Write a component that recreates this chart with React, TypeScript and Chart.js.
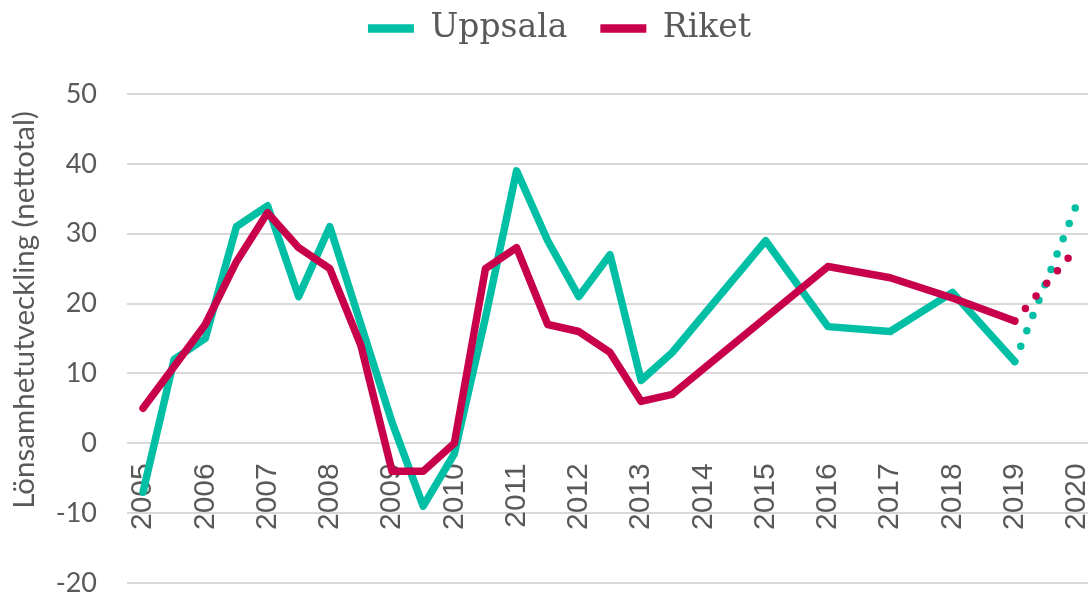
import React, { useEffect, useRef } from 'react';
import { Chart, registerables } from 'chart.js';

Chart.register(...registerables);

// ---- Data ----
const yearTicks = [2005, 2006, 2007, 2008, 2009, 2010, 2011, 2012, 2013, 2014, 2015, 2016, 2017, 2018, 2019, 2020];

const uppsalaYears = [2005, 2005.5, 2006, 2006.5, 2007, 2007.5, 2008, 2008.5, 2009, 2009.5, 2010, 2010.5, 2011, 2011.5, 2012, 2012.5, 2013, 2013.5, 2015, 2016, 2017, 2018, 2019];
const uppsalaValues = [-7, 12, 15, 31, 34, 21, 31, 17, 3, -9, -1.5, 18, 39, 29, 21, 27, 9, 13, 29, 16.7, 16, 21.6, 11.7];

const riketYears = [2005, 2005.5, 2006, 2006.5, 2007, 2007.5, 2008, 2008.5, 2009, 2009.5, 2010, 2010.5, 2011, 2011.5, 2012, 2012.5, 2013, 2013.5, 2016, 2017, 2018, 2019];
const riketValues = [5, 11, 17, 26, 33, 28, 25, 14, -4, -4, 0, 25, 28, 17, 16, 13, 6, 7, 25.3, 23.7, 20.8, 17.5];

const forecastYears = [2019, 2020];
const uppsalaForecast = [11.7, 34.3];
const riketForecast = [17.5, 28];

const yMin = -20;
const yMax = 50;
const yStep = 10;

const seriesNames = ['Uppsala', 'Riket'];
const yTitle = 'Lönsamhetutveckling (nettotal)';

const TEAL = '#00BFA5';
const RED = '#C8004B';
const TEXT = '#595959';
const GRID = '#D9D9D9';

const toPoints = (xs: number[], ys: number[]) => xs.map((x, i) => ({ x, y: ys[i] }));

const legendSpacer = {
  id: 'legendSpacer',
  beforeInit(chart: any) {
    if (!chart.legend) return;
    const orig = chart.legend.fit;
    chart.legend.fit = function () {
      orig.call(this);
      this.height += 39;
    };
  },
};

const yTitlePlugin = {
  id: 'yTitlePlugin',
  afterDraw(chart: any) {
    const { ctx, chartArea } = chart;
    ctx.save();
    ctx.translate(24, (chartArea.top + chartArea.bottom) / 2 - 28.5);
    ctx.rotate(-Math.PI / 2);
    ctx.textAlign = 'center';
    ctx.textBaseline = 'middle';
    ctx.fillStyle = TEXT;
    ctx.font = '29.5px Lato';
    ctx.fillText(yTitle, 0, 0);
    ctx.restore();
  },
};

export default function App() {
  const ref = useRef<HTMLCanvasElement>(null);

  useEffect(() => {
    document.body.style.margin = '0';
    const lineBase = {
      borderWidth: 7.5,
      pointRadius: 0,
      pointHoverRadius: 0,
      tension: 0,
      borderCapStyle: 'round' as const,
      borderJoinStyle: 'round' as const,
    };
    const chart = new Chart(ref.current!, {
      type: 'line',
      data: {
        datasets: [
          { ...lineBase, label: seriesNames[0], data: toPoints(uppsalaYears, uppsalaValues), borderColor: TEAL, backgroundColor: TEAL, order: 1 },
          { ...lineBase, label: seriesNames[1], data: toPoints(riketYears, riketValues), borderColor: RED, backgroundColor: RED, order: 0 },
          { ...lineBase, label: seriesNames[0] + ' prognos', data: toPoints(forecastYears, uppsalaForecast), borderColor: TEAL, backgroundColor: TEAL, borderDash: [0, 16.5], order: 1 },
          { ...lineBase, label: seriesNames[1] + ' prognos', data: toPoints(forecastYears, riketForecast), borderColor: RED, backgroundColor: RED, borderDash: [0, 16.5], order: 0 },
        ],
      },
      options: {
        animation: false,
        responsive: false,
        devicePixelRatio: 1,
        layout: { padding: { top: -21, bottom: 11, left: 31, right: 0 } },
        plugins: {
          tooltip: { enabled: false },
          legend: {
            position: 'top',
            labels: {
              usePointStyle: true,
              pointStyle: 'line',
              pointStyleWidth: 46,
              padding: 33,
              color: TEXT,
              font: { family: '"DejaVu Serif"', size: 33 },
              filter: (item: any) => item.datasetIndex < 2,
              sort: (a: any, b: any) => a.datasetIndex - b.datasetIndex,
              generateLabels: (chart: any) =>
                (Chart.defaults.plugins.legend.labels.generateLabels as any)(chart).map((it: any) => ({ ...it, lineWidth: 8.5 })),
            },
          },
        },
        scales: {
          x: {
            type: 'linear',
            min: 2004.743,
            max: 2020.177,
            position: { y: 0 } as any,
            afterBuildTicks: (s: any) => {
              s.ticks = yearTicks.map((v) => ({ value: v }));
            },
            afterFit: (s: any) => {
              s.height = 0;
              s.paddingLeft = 0;
              s.paddingRight = 0;
            },
            grid: { display: false, drawTicks: false },
            border: { display: false },
            ticks: {
              autoSkip: false,
              minRotation: 90,
              maxRotation: 90,
              padding: 20,
              color: TEXT,
              font: { family: '"Liberation Sans", Arial, sans-serif', size: 30 },
              callback: (v: any) => String(v),
            },
          },
          y: {
            min: yMin,
            max: yMax,
            afterFit: (s: any) => {
              s.width = 96;
              s.paddingTop = 0;
              s.paddingBottom = 0;
            },
            grid: { color: GRID, lineWidth: 2, drawTicks: false },
            border: { display: false },
            ticks: {
              stepSize: yStep,
              padding: 30,
              color: TEXT,
              font: { family: 'Lato', size: 27 },
            },
            title: { display: false, text: yTitle },
          },
        },
      },
      plugins: [legendSpacer, yTitlePlugin],
    } as any);
    return () => chart.destroy();
  }, []);

  return (
    <div style={{ width: 1088, height: 594 }}>
      <canvas ref={ref} width={1088} height={594} style={{ display: 'block' }} />
    </div>
  );
}
